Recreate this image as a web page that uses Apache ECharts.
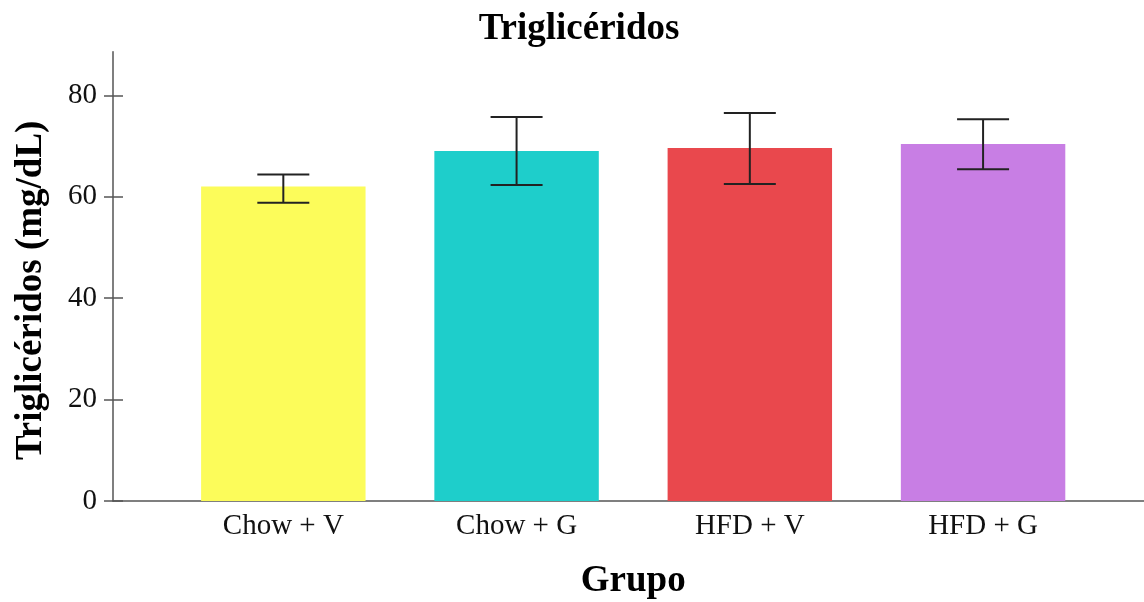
<!DOCTYPE html>
<html>
<head>
<meta charset="utf-8">
<script src="https://cdn.jsdelivr.net/npm/echarts@6/dist/echarts.min.js"></script>
<style>html,body{margin:0;padding:0;background:#fff;}#c{width:1144px;height:602px;}</style>
</head>
<body>
<div id="c"></div>
<script>
const categories = ['Chow + V', 'Chow + G', 'HFD + V', 'HFD + G'];
const means = [62.0, 69.0, 69.6, 70.4];
const errLow = [58.8, 62.3, 62.5, 65.4];
const errHigh = [64.4, 75.7, 76.5, 75.3];
const barColors = ['#FCFC5A', '#1ECECB', '#E9484D', '#C87EE4'];
const yTicks = [0, 20, 40, 60, 80];
const yMax = 88.6;

const chart = echarts.init(document.getElementById('c'), null, {renderer: 'canvas'});
const serif = '"Liberation Serif", "DejaVu Serif", serif';
const axisColor = '#555';
const gridTop = 51.7, gridBottom = 101;

const errData = categories.map((c, i) => [i, errLow[i], errHigh[i]]);

chart.setOption({
  animation: false,
  backgroundColor: '#fff',
  title: {
    text: 'Triglicéridos',
    left: 574,
    textAlign: 'center',
    top: 6,
    textStyle: {fontFamily: serif, fontWeight: 'bold', fontSize: 37, color: '#000'}
  },
  grid: [
    {left: 113, right: 0, top: gridTop, bottom: gridBottom, containLabel: false, outerBoundsMode: 'none'},
    {left: 166.7, right: 44.3, top: gridTop, bottom: gridBottom, containLabel: false, outerBoundsMode: 'none'}
  ],
  xAxis: [
    {type: 'value', gridIndex: 0, min: 0, max: 1, splitLine: {show: false},
     axisLine: {show: true, onZero: false, lineStyle: {color: axisColor, width: 1.5}},
     axisTick: {show: false}, axisLabel: {show: false}},
    {type: 'category', gridIndex: 1, data: categories, boundaryGap: true,
     axisLine: {show: false}, axisTick: {show: false},
     axisLabel: {margin: 11, fontFamily: serif, fontSize: 29, color: '#111'},
     name: 'Grupo', nameLocation: 'middle', nameGap: 62,
     nameTextStyle: {fontFamily: serif, fontWeight: 'bold', fontSize: 37, color: '#000'}}
  ],
  yAxis: [
    {type: 'value', gridIndex: 0, min: 0, max: yMax, interval: 20,
     splitLine: {show: false},
     axisLine: {show: true, lineStyle: {color: axisColor, width: 1.5}},
     axisTick: {show: true, length: 9, customValues: yTicks, lineStyle: {color: axisColor, width: 1.5}},
     axisLabel: {margin: 16, customValues: yTicks, fontFamily: serif, fontSize: 29, color: '#111'},
     name: 'Triglicéridos (mg/dL)', nameLocation: 'middle', nameGap: 63, nameRotate: 90,
     nameTextStyle: {fontFamily: serif, fontWeight: 'bold', fontSize: 37, color: '#000', padding: [0, 28, 0, 0]}},
    {type: 'value', gridIndex: 0, min: 0, max: yMax, interval: 20, position: 'left',
     splitLine: {show: false}, axisLine: {show: false}, axisLabel: {show: false},
     axisTick: {show: true, inside: true, length: 10, customValues: yTicks, lineStyle: {color: axisColor, width: 1.5}}},
    {type: 'value', gridIndex: 1, min: 0, max: yMax, interval: 20, show: false}
  ],
  series: [
    {
      type: 'bar', xAxisIndex: 1, yAxisIndex: 2,
      barCategoryGap: '29.5%',
      data: means.map((v, i) => ({value: v, itemStyle: {color: barColors[i]}})),
      z: 2
    },
    {
      type: 'custom', xAxisIndex: 1, yAxisIndex: 2, z: 5,
      data: errData,
      renderItem: function (params, api) {
        const x = api.value(0);
        const lo = api.coord([x, api.value(1)]);
        const hi = api.coord([x, api.value(2)]);
        const hw = 26;
        const style = {stroke: '#222', lineWidth: 2};
        return {
          type: 'group',
          children: [
            {type: 'line', shape: {x1: lo[0], y1: lo[1], x2: hi[0], y2: hi[1]}, style: style},
            {type: 'line', shape: {x1: hi[0] - hw, y1: hi[1], x2: hi[0] + hw, y2: hi[1]}, style: style},
            {type: 'line', shape: {x1: lo[0] - hw, y1: lo[1], x2: lo[0] + hw, y2: lo[1]}, style: style}
          ]
        };
      }
    }
  ]
});
</script>
</body>
</html>
